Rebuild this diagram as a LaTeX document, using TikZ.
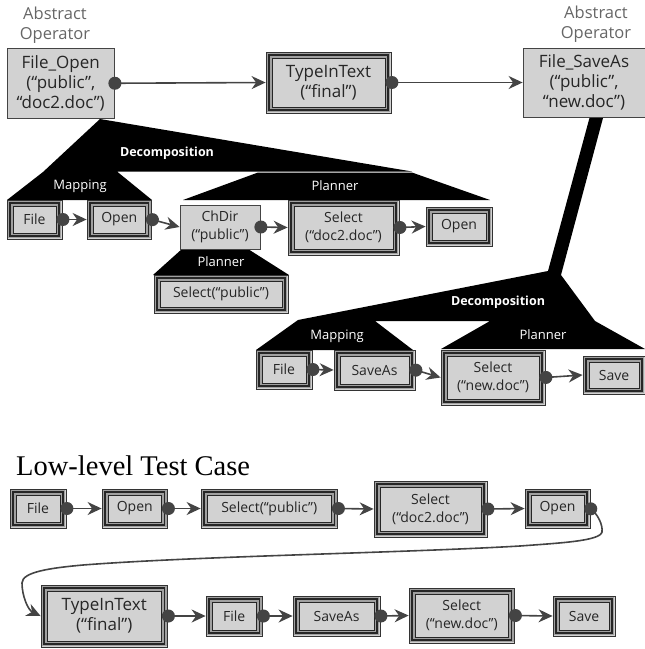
\documentclass[tikz,border=0pt]{standalone}
\usepackage{fontspec}
\setmainfont{Open Sans}
\newfontfamily\titlefont{Liberation Serif}
\usetikzlibrary{arrows.meta}
\definecolor{boxgray}{HTML}{D2D2D2}
\definecolor{linegray}{HTML}{444444}
\definecolor{labelgray}{HTML}{666666}
\definecolor{bandgray}{HTML}{A0A0A0}
\tikzset{
  x=1pt,y=-1pt,
  big/.style={font=\fontsize{17}{20}\selectfont},
  small/.style={font=\fontsize{14}{18}\selectfont},
  plainbox/.style={draw=linegray,line width=.8pt,fill=boxgray,inner sep=0pt,align=center,text=black!85},
  tribox/.style={plainbox,draw=black!80,
    path picture={
      \foreach \ins/\lw/\col in {1.6/1.6/bandgray,3.2/1.6/black!85,4.8/1.6/bandgray,6/.9/black!85}{
        \draw[line width=\lw pt,\col]
          ([shift={(\ins pt,-\ins pt)}]path picture bounding box.north west) rectangle
          ([shift={(-\ins pt,\ins pt)}]path picture bounding box.south east);
      }
    }},
  conn/.style={draw=linegray,line width=1.6pt,shorten <=-6pt,
    {Circle[length=13pt,width=13pt]}-{Stealth[length=14pt,width=13pt,inset=4.5pt]}},
  treelabel/.style={text=white,font=\fontsize{13}{15}\selectfont},
  treetitle/.style={text=white,font=\fontsize{12.5}{15}\selectfont\bfseries},
  greylabel/.style={text=labelgray,align=center,font=\fontsize{16.5}{20}\selectfont},
}
\newcommand{\bx}[7][tribox]{%
  \pgfmathsetmacro{\bxcx}{(#3+#5)/2}\pgfmathsetmacro{\bxcy}{(#4+#6)/2}%
  \pgfmathsetmacro{\bxw}{#5-#3}\pgfmathsetmacro{\bxh}{#6-#4}%
  \node[#1,minimum width=\bxw pt,minimum height=\bxh pt] (#2) at (\bxcx,\bxcy) {#7};}
\begin{document}
\begin{tikzpicture}
\useasboundingbox (0,0) rectangle (645,649);
% trees
\fill (100,119) -- (412,171.5) -- (117,171.5) -- (152,200) -- (7,200) -- (43,172) -- cycle;
\fill (258,172.5) -- (412,172.5) -- (490,200) -- (183,200) -- cycle;
\fill (182,249) -- (248,249) -- (289,275) -- (153,275) -- cycle;
\fill (590,116) -- (603,118) -- (561,275) -- (595,321) -- (645,349) -- (441,349) -- (490,321) -- (375,321) -- (413,350) -- (256,350) -- (298,320) -- (548,271) -- cycle;
% labels
\node[greylabel] (abs1) at (55,25) {Abstract\\Operator};
\node[greylabel] (abs2) at (596,24) {Abstract\\Operator};
\node[treetitle] (d1) at (167,153) {Decomposition};
\node[treelabel] (m1) at (80,186) {Mapping};
\node[treelabel] (p1) at (335,186) {Planner};
\node[treelabel] (p2) at (221,262) {Planner};
\node[treetitle] (d2) at (498,302) {Decomposition};
\node[treelabel] (m2) at (337,336) {Mapping};
\node[treelabel] (p3) at (543,335) {Planner};
\node[anchor=base west,inner sep=0pt,font=\fontsize{28.5}{30}\selectfont\titlefont] (title) at (16,475) {Low-level Test Case};
% top
\bx[plainbox,big]{fo}{7.5}{48.5}{114}{118}{File\_Open\\(“public”,\\“doc2.doc”)}
\bx[tribox,big]{tt}{266}{52}{391}{113}{TypeInText\\(“final”)}
\bx[plainbox,big]{fs}{523}{48}{645}{117}{File\_SaveAs\\(“public”,\\“new.doc”)}
\bx[tribox,small]{a1}{7}{200}{62}{239}{File}
\bx[tribox,small]{a2}{87}{200}{151.5}{239}{Open}
\bx[plainbox,small]{a3}{180}{205}{260}{249}{ChDir\\(“public”)}
\bx[tribox,small]{a4}{288}{200}{399}{255}{Select\\(“doc2.doc”)}
\bx[tribox,small]{a5}{426}{207}{492}{246}{Open}
\bx[tribox,small]{a6}{154}{275}{288}{313}{Select(“public”)}
\bx[tribox,small]{b1}{256}{350}{312}{389}{File}
\bx[tribox,small]{b2}{334}{350}{415}{390}{SaveAs}
\bx[tribox,small]{b3}{441}{350}{545}{405}{Select\\(“new.doc”)}
\bx[tribox,small]{b4}{583}{356}{645}{394}{Save}
% bottom
\bx[tribox,small]{c1}{10}{489}{66}{528}{File}
\bx[tribox,small]{c2}{102}{489}{167.5}{528}{Open}
\bx[tribox,small]{c3}{201}{489}{337.5}{528}{Select(“public”)}
\bx[tribox,small]{c4}{374}{481}{487}{537}{Select\\(“doc2.doc”)}
\bx[tribox,small]{c5}{525}{489}{590}{528}{Open}
\bx[tribox,big]{e1}{41}{585}{167.5}{647}{TypeInText\\(“final”)}
\bx[tribox,small]{e2}{206}{596}{262.5}{636}{File}
\bx[tribox,small]{e3}{293}{596}{380}{636}{SaveAs}
\bx[tribox,small]{e4}{409}{588}{514.5}{643}{Select\\(“new.doc”)}
\bx[tribox,small]{e5}{553}{596}{615}{636}{Save}
% connectors
\foreach \p/\q in {fo/tt,tt/fs,a1/a2,a2/a3,a3/a4,a4/a5,b1/b2,b2/b3,b3/b4,c1/c2,c2/c3,c3/c4,c4/c5,e1/e2,e2/e3,e3/e4,e4/e5}
  \draw[conn] (\p.east) -- (\q.west);
\draw[conn] (c5.east) .. controls (597,515) and (603,524) .. (602,532)
  .. controls (600,541) and (560,543) .. (520,546)
  .. controls (400,553) and (200,556) .. (83,565)
  .. controls (50,568) and (22,572) .. (22,583)
  .. controls (22,596) and (28,610) .. (e1.west);
\end{tikzpicture}
\end{document}
